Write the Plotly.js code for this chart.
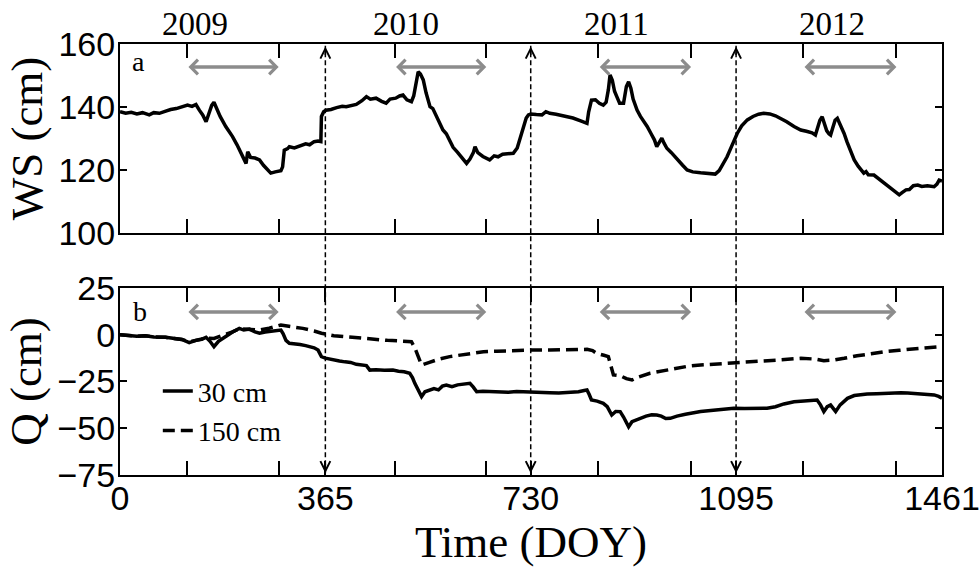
<!DOCTYPE html>
<html><head><meta charset="utf-8">
<script src="https://cdn.plot.ly/plotly-3.0.1.min.js"></script>
<style>html,body{margin:0;padding:0;background:#fff}#chart{width:979px;height:567px}</style>
</head><body><div id="chart"></div>
<script>
// ---- data ----
const wsDay = [0,10,20,30,40,52,60,70,80,90,100,110,120,128,135,141,147,153,158,163,167,172,178,188,195,200,208,215,220,224,227,232,240,248,255,262,268,276,286,289,292,298,301,310,320,330,337,345,352,357,358,362,366,375,385,395,402,410,420,430,438,445,455,465,473,480,490,497,503,510,518,522,526,530,534,539,544,551,556,562,568,574,580,586,592,600,608,616,622,628,631,636,645,657,665,672,680,690,699,706,712,718,722,726,730,740,750,757,764,775,790,805,820,830,833,838,845,852,859,864,868,871,875,879,883,888,895,900,904,908,912,919,925,931,937,944,950,954,959,963,967,972,980,990,1000,1008,1018,1032,1045,1058,1065,1072,1079,1087,1092,1097,1105,1115,1125,1135,1144,1155,1165,1174,1185,1198,1210,1220,1230,1236,1240,1244,1248,1252,1256,1260,1263,1267,1271,1275,1280,1287,1292,1298,1305,1312,1318,1322,1326,1330,1340,1350,1360,1370,1378,1385,1390,1397,1403,1410,1418,1425,1435,1447,1452,1456,1461];
const wsVal = [138.5,138,138.3,137.8,138.2,137.5,138.2,138,138.6,139.2,139.5,140,140.6,140.2,140.8,139,137.5,135.3,138,140.5,141.5,139.5,137,133.8,132,130.6,128,125.5,123.5,122.1,125.8,124,123.8,123.2,121.5,120,119,119.4,119.8,121,126.3,126.8,127.4,127,127.8,128.3,128,129,129.2,129,137,138.5,139,139.2,139.8,140.2,140.1,140.5,140.8,142,143.3,142.5,142.8,141.8,141.2,142.5,142.8,143.5,143.8,142.3,141.7,143.5,148,151.2,150.5,148.6,144.5,140.1,139.5,137,134.5,132.7,131.5,129.5,127.2,125.6,123.8,122.1,123.5,125.5,127.4,125.5,124.3,123.2,124.5,124.2,125,125.2,125.3,127,130.5,134,136.5,137.5,137.8,137.6,137.5,138.5,138,137.7,137.2,136.5,135.5,134.8,138.5,142.2,142.3,141.2,140.6,141.5,145.5,150.2,148.5,145,143.3,141.2,141.2,146.5,148,146,142.5,139,137,135.5,133.8,131.5,129.5,127.4,129,130.1,128.5,126.9,125.5,123.3,121.5,120,119.4,119.1,119,118.7,119.8,121.8,124.2,127.5,129.5,131.6,134,135.9,137,137.7,138,137.8,137.2,136.4,135.3,133.8,132.7,132.3,131.8,131.1,133.5,135.8,136.9,134.8,132.5,131.5,131.1,133.5,135.8,136.4,134.5,131.6,129,126,123.2,121.2,120,119,119.5,118.5,118.4,117,115.5,114,112.8,112.1,112.8,113.7,113.8,115,115.2,114.8,115,114.7,115.5,116.8,116.5];

const q30Day = [0,15,30,45,60,81,95,110,123,135,145,153,160,167,175,182,190,200,212,220,230,240,248,258,270,280,286,290,295,301,310,320,330,337,345,352,355,358,365,378,390,400,410,420,432,438,444,455,470,485,495,505,515,520,524,530,536,542,551,558,566,573,580,590,600,610,622,628,634,645,660,675,690,705,729,745,764,780,800,815,825,830,834,838,848,859,866,874,881,889,895,900,904,910,918,925,935,945,954,962,970,978,990,1005,1020,1032,1050,1070,1091,1110,1130,1150,1165,1180,1198,1215,1230,1239,1245,1251,1257,1263,1268,1272,1280,1293,1305,1315,1328,1345,1360,1375,1388,1400,1415,1430,1447,1455,1461];
const q30Val = [0,-0.3,-0.8,-0.5,-1.2,-1.4,-1.8,-2.5,-4.2,-3,-2.5,-1.4,-3.5,-6.4,-3.5,-1.9,-0.5,1.5,3.4,2.5,3,1.5,0.8,1.5,1.8,2.2,2.5,0.5,-3,-4.6,-4.8,-5.2,-5.8,-6.4,-7,-8.2,-10,-11.7,-12.5,-13.5,-14,-14.5,-14.8,-15.8,-16.2,-16.5,-18.9,-18.7,-19,-18.9,-19.5,-19.8,-20.6,-23,-26,-29.5,-33.1,-30.5,-29.5,-28.8,-29.5,-27.5,-26.9,-27.8,-26.8,-26.5,-26,-28,-30.5,-30.2,-30.5,-30.5,-30.8,-30.4,-30.5,-30.8,-31,-31.2,-31,-30.5,-29.8,-29.5,-32,-34.9,-35.5,-36.7,-38.5,-42.9,-41,-41.1,-44,-47.5,-49.2,-46.5,-45.5,-44.7,-43.5,-42.8,-42.9,-43.5,-44.8,-44.7,-43.5,-42.5,-41.6,-41.1,-40.5,-39.8,-39.3,-39.5,-39.2,-39.3,-38.5,-37,-35.8,-35.5,-35,-34.9,-37.5,-41.1,-38.5,-37.6,-39.5,-41.1,-37.5,-34,-32.5,-32,-31.7,-31.5,-31.2,-30.8,-31,-31.2,-31.5,-31.8,-32.2,-33,-34];

const q150Day = [0,15,30,45,60,81,95,110,123,135,145,153,167,182,200,212,230,248,265,286,300,325,345,358,380,405,426,450,475,500,518,524,530,536,550,565,586,610,630,646,670,700,729,764,800,830,840,847,860,868,872,877,890,900,910,920,942,965,990,1010,1032,1060,1091,1130,1170,1210,1235,1251,1270,1287,1310,1335,1358,1385,1410,1435,1456,1461];
const q150Val = [0,-0.3,-0.8,-0.5,-1.2,-1.4,-1.8,-2.5,-3.8,-3,-2.5,-1.8,-2,-0.5,1.5,3.2,3,2.5,3.5,5.2,4.5,3.4,2,0.8,-0.5,-1.2,-1.9,-2.5,-3,-3.4,-3.7,-7,-12,-16.2,-14.8,-13.2,-11.7,-10.5,-9.6,-9.1,-8.8,-8.4,-8.2,-8.2,-8,-7.8,-8.5,-9.9,-11,-11.7,-16,-21.5,-22,-23.5,-24.2,-22.8,-20.6,-19.3,-18,-16.8,-16.2,-15.7,-15.3,-14.5,-13.5,-12.6,-13,-13.9,-13.5,-12.6,-11.2,-10.2,-9.1,-8.3,-7.5,-6.9,-6.4,-6.3];

const seriesNames = ['30 cm', '150 cm'];
const xLabelVals = [0, 365, 730, 1095, 1461];
const xLabelText = ['0', '365', '730', '1095', '1461'];
const seasonStart = [119, 488, 850, 1214];
const seasonEnd = [282, 651, 1015, 1380];
const eventDays = [365, 730, 1095];
const years = ['2009', '2010', '2011', '2012'];
const yearCenter = [133, 508, 882, 1265];
const wsTicks = [100, 120, 140, 160];
const qTicks = [-75, -50, -25, 0, 25];
const panelLabels = ['a', 'b'];

// ---- build ----
const serif = 'Liberation Serif, Times New Roman, serif';
const sans = 'Liberation Sans, Arial, sans-serif';
const seasonTicks = [];
seasonStart.forEach((s, i) => { seasonTicks.push(s, seasonEnd[i]); });
const x2Vals = xLabelVals.concat(seasonTicks);
const x2Text = xLabelText.concat(seasonTicks.map(() => ''));

const traces = [
  {x: wsDay, y: wsVal, xaxis: 'x', yaxis: 'y', mode: 'lines', showlegend: false,
   line: {color: '#000', width: 3.5}},
  {x: q30Day, y: q30Val, xaxis: 'x2', yaxis: 'y2', mode: 'lines', name: seriesNames[0],
   line: {color: '#000', width: 3.5}},
  {x: q150Day, y: q150Val, xaxis: 'x2', yaxis: 'y2', mode: 'lines', name: seriesNames[1],
   line: {color: '#000', width: 3.5, dash: '12px,6px'}}
];

const axisCommon = {showline: true, linecolor: '#000', linewidth: 2, mirror: 'ticks',
  showgrid: false, zeroline: false, tickcolor: '#000', tickwidth: 2, ticks: 'inside'};

const shapes = eventDays.map(d => ({type: 'line', xref: 'x', yref: 'paper', x0: d, x1: d,
  y0: 0.004, y1: 0.996, line: {color: '#000', width: 1.5, dash: '5px,3px'}}));

const annotations = [];
eventDays.forEach(d => {
  annotations.push({xref: 'x', yref: 'y', x: d, y: 159.2, axref: 'x', ayref: 'y', ax: d, ay: 156,
    showarrow: true, arrowhead: 5, arrowsize: 1.3, arrowwidth: 1.5, arrowcolor: '#000', text: ''});
  annotations.push({xref: 'x2', yref: 'y2', x: d, y: -74, axref: 'x2', ayref: 'y2', ax: d, ay: -68,
    showarrow: true, arrowhead: 5, arrowsize: 1.3, arrowwidth: 1.5, arrowcolor: '#000', text: ''});
});
[['x', 'y', 152.7], ['x2', 'y2', 12.2]].forEach(([xr, yr, yv]) => {
  seasonStart.forEach((s, i) => {
    annotations.push({xref: xr, yref: yr, x: seasonEnd[i], y: yv, axref: xr, ayref: yr,
      ax: s, ay: yv, showarrow: true, arrowside: 'end+start', arrowhead: 4, startarrowhead: 4,
      arrowsize: 0.8, startarrowsize: 0.8, arrowwidth: 3.5, arrowcolor: '#8c8c8c', text: ''});
  });
});
years.forEach((t, i) => {
  annotations.push({xref: 'x', yref: 'paper', x: yearCenter[i], y: 1, yanchor: 'bottom', yshift: 0,
    text: t, showarrow: false, font: {family: serif, size: 33, color: '#000'}});
});
annotations.push({xref: 'paper', yref: 'paper', x: 0.012, y: 1.0, xanchor: 'left', yanchor: 'top',
  text: panelLabels[0], showarrow: false, font: {family: serif, size: 28, color: '#000'}});
annotations.push({xref: 'paper', yref: 'paper', x: 0.013, y: 0.42, xanchor: 'left', yanchor: 'top',
  text: panelLabels[1], showarrow: false, font: {family: serif, size: 28, color: '#000'}});

const tickFont = {family: sans, size: 34, color: '#000'};
const titleFont = {family: serif, size: 45, color: '#000'};

const layout = {
  width: 979, height: 567,
  margin: {l: 120, r: 37, t: 44, b: 92},
  paper_bgcolor: '#fff', plot_bgcolor: '#fff',
  showlegend: true,
  legend: {x: 0.046, y: 0.252, xanchor: 'left', yanchor: 'top', bgcolor: 'rgba(0,0,0,0)',
    font: {family: serif, size: 28, color: '#000'}, tracegroupgap: 0},
  xaxis: Object.assign({}, axisCommon, {domain: [0, 1], anchor: 'y', range: [0, 1461],
    tickvals: seasonTicks, ticklen: 14, showticklabels: false}),
  yaxis: Object.assign({}, axisCommon, {domain: [0.5615, 1], anchor: 'x', range: [100, 160],
    tickvals: wsTicks, ticklen: 7, tickfont: tickFont, ticklabelstandoff: -4,
    title: {text: 'WS (cm)', font: titleFont, standoff: 2}}),
  xaxis2: Object.assign({}, axisCommon, {domain: [0, 1], anchor: 'y2', range: [0, 1461],
    tickvals: x2Vals, ticktext: x2Text, ticklen: 14, tickfont: tickFont,
    ticklabelstandoff: -8, ticklabeloverflow: 'allow',
    title: {text: 'Time (DOY)', font: titleFont, standoff: 4}}),
  yaxis2: Object.assign({}, axisCommon, {domain: [0, 0.4339], anchor: 'x2', range: [-75, 25],
    tickvals: qTicks, ticklen: 7, tickfont: tickFont, ticklabelstandoff: -4,
    title: {text: 'Q (cm)', font: titleFont, standoff: 2}}),
  shapes: shapes,
  annotations: annotations
};

Plotly.newPlot('chart', traces, layout, {displayModeBar: false, staticPlot: true});
</script></body></html>
